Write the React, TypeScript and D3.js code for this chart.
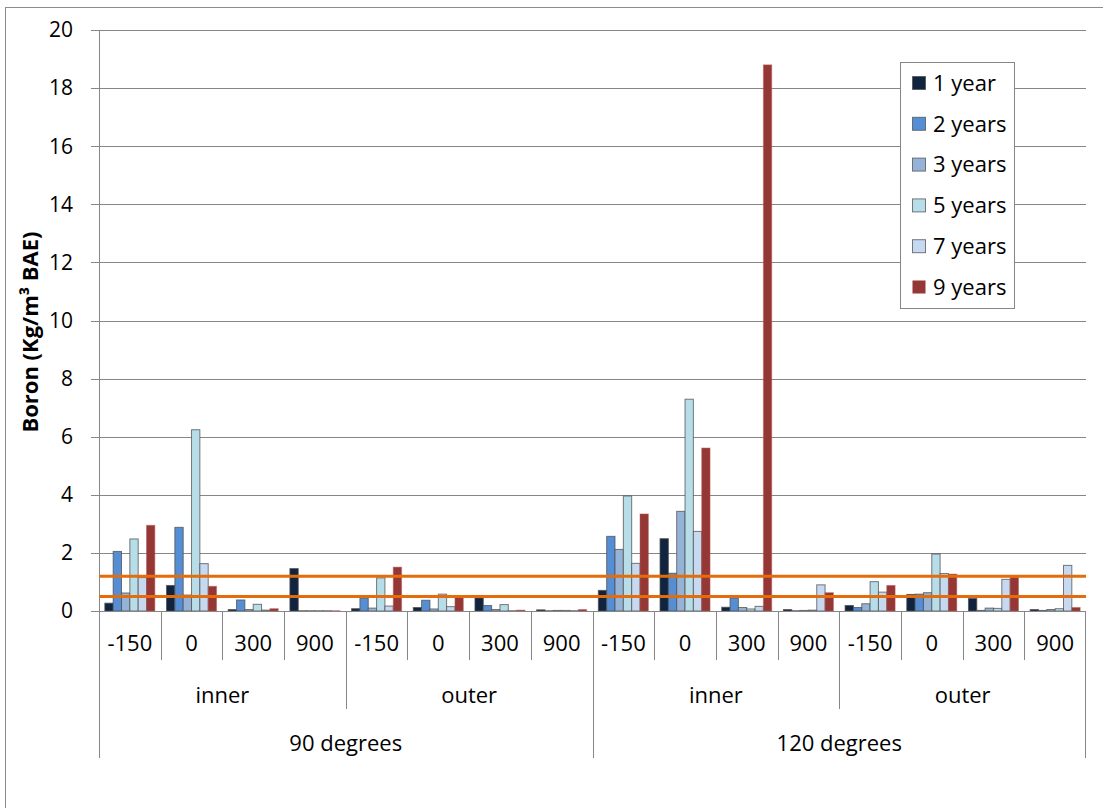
import React from "react";
import * as d3 from "d3";

const positions = ["-150", "0", "300", "900"];
const zones = ["inner", "outer"];
const angles = ["90 degrees", "120 degrees"];
const seriesNames = ["1 year", "2 years", "3 years", "5 years", "7 years", "9 years"];
const seriesColors = ["#10243f", "#558ed5", "#95b3d7", "#b7dee8", "#c6d9f1", "#953735"];

const year1 = [0.27, 0.88, 0.05, 1.46, 0.08, 0.12, 0.45, 0.04, 0.71, 2.49, 0.13, 0.05, 0.19, 0.57, 0.43, 0.05];
const year2 = [2.05, 2.88, 0.38, 0.01, 0.44, 0.37, 0.19, 0.01, 2.57, 1.3, 0.45, 0.01, 0.12, 0.58, 0.02, 0.02];
const year3 = [0.62, 0.55, 0.05, 0.01, 0.1, 0.07, 0.05, 0.02, 2.12, 3.43, 0.12, 0.02, 0.25, 0.63, 0.1, 0.05];
const year5 = [2.48, 6.24, 0.23, 0.01, 1.14, 0.58, 0.22, 0.02, 3.96, 7.29, 0.07, 0.03, 1.01, 1.96, 0.09, 0.08];
const year7 = [1.15, 1.63, 0.03, 0.01, 0.17, 0.15, 0.01, 0.01, 1.64, 2.74, 0.16, 0.9, 0.65, 1.29, 1.09, 1.57];
const year9 = [2.95, 0.85, 0.08, 0.01, 1.51, 0.48, 0.03, 0.05, 3.34, 5.61, 18.8, 0.63, 0.88, 1.27, 1.16, 0.12];
const seriesValues = [year1, year2, year3, year5, year7, year9];

const limitLines = [0.5, 1.2];
const yTicks = [0, 2, 4, 6, 8, 10, 12, 14, 16, 18, 20];
const yTitle = "Boron (Kg/m³ BAE)";

const FONT = "'Open Sans', sans-serif";

export default function App() {
  const left = 99, right = 1086, top = 30, bottom = 611;
  const cats: { angle: string; zone: string; pos: string; key: string }[] = [];
  angles.forEach((a) => zones.forEach((z) => positions.forEach((p) => cats.push({ angle: a, zone: z, pos: p, key: `${a}|${z}|${p}` }))));

  const x0 = d3.scaleBand<string>().domain(cats.map((c) => c.key)).range([left, right]).padding(0);
  const x1 = d3.scaleBand<string>().domain(seriesNames).range([0, x0.bandwidth()]).paddingInner(0).paddingOuter(0.7);
  const y = d3.scaleLinear().domain([0, 20]).range([bottom, top]);
  const step = x0.bandwidth();

  const lvl1 = 660, lvl2 = 709, lvl3 = 758;

  return (
    <svg width={1103} height={808} style={{ position: "absolute", left: 0, top: 0, fontFamily: FONT }}>
      <rect x={0} y={0} width={1103} height={808} fill="#ffffff" />
      <rect x={5.5} y={7.5} width={1200} height={1000} fill="none" stroke="#8c8c8c" strokeWidth={1} />
      {/* gridlines */}
      {yTicks.map((t) => (
        <g key={t}>
          {t > 0 && <line x1={left} x2={right} y1={Math.round(y(t)) + 0.5} y2={Math.round(y(t)) + 0.5} stroke="#868686" strokeWidth={1} />}
          <line x1={left - 8} x2={left} y1={Math.round(y(t)) + 0.5} y2={Math.round(y(t)) + 0.5} stroke="#868686" strokeWidth={1} />
          <text x={73} y={y(t)} dy="0.35em" textAnchor="end" fontSize={21} fill="#000">{t}</text>
        </g>
      ))}
      <line x1={left + 0.5} x2={left + 0.5} y1={top} y2={bottom} stroke="#868686" strokeWidth={1} />
      {/* bars */}
      {seriesValues.map((vals, si) => (
        <g key={si}>
          {cats.map((c, ci) => {
            const v = vals[ci];
            const bx = (x0(c.key) as number) + (x1(seriesNames[si]) as number);
            const yt = y(v);
            return (
              <rect
                key={ci}
                x={bx}
                y={yt}
                width={x1.bandwidth()}
                height={Math.max(0, bottom - yt)}
                fill={seriesColors[si]}
                stroke={si === 5 ? "#b55a58" : "#4d4d4d"}
                strokeOpacity={si === 5 ? 0.5 : 0.75}
                strokeWidth={1}
              />
            );
          })}
        </g>
      ))}
      {/* limit lines */}
      {limitLines.map((l) => (
        <line key={l} x1={left} x2={right} y1={y(l)} y2={y(l)} stroke="#e46c0a" strokeWidth={3} />
      ))}
      {/* x axis */}
      <line x1={left - 8} x2={right} y1={bottom + 0.5} y2={bottom + 0.5} stroke="#868686" strokeWidth={1} />
      {cats.map((c, ci) => {
        const xs = Math.round(x0(c.key) as number) + 0.5;
        let y2 = lvl1;
        if (ci % 8 === 0) y2 = lvl3;
        else if (ci % 4 === 0) y2 = lvl2;
        return (
          <g key={c.key}>
            <line x1={xs} x2={xs} y1={bottom} y2={y2} stroke="#868686" strokeWidth={1} />
            <text x={(x0(c.key) as number) + step / 2} y={643} dy="0.35em" textAnchor="middle" fontSize={22}>{c.pos}</text>
          </g>
        );
      })}
      <line x1={right - 0.5} x2={right - 0.5} y1={bottom} y2={lvl3} stroke="#868686" strokeWidth={1} />
      {angles.map((a) =>
        zones.map((z) => {
          const start = x0(`${a}|${z}|${positions[0]}`) as number;
          return (
            <text key={a + z} x={start + step * 2} y={695} dy="0.35em" textAnchor="middle" fontSize={22}>{z}</text>
          );
        })
      )}
      {angles.map((a) => {
        const start = x0(`${a}|${zones[0]}|${positions[0]}`) as number;
        return (
          <text key={a} x={start + step * 4} y={743} dy="0.35em" textAnchor="middle" fontSize={22}>{a}</text>
        );
      })}
      {/* y title */}
      <text transform={`translate(30,332) rotate(-90)`} textAnchor="middle" dy="0.35em" fontSize={22} fontWeight="bold">{yTitle}</text>
      {/* legend */}
      <rect x={900.5} y={62.5} width={114} height={246} fill="#ffffff" stroke="#868686" strokeWidth={1} />
      {seriesNames.map((s, i) => (
        <g key={s}>
          <rect x={912.5} y={83 + i * 40.8 - 6.5} width={13} height={13} fill={seriesColors[i]} stroke={i === 5 ? "none" : "#4d4d4d"} strokeOpacity={0.75} />
          <text x={933} y={83 + i * 40.8} dy="0.35em" fontSize={22}>{s}</text>
        </g>
      ))}
    </svg>
  );
}
